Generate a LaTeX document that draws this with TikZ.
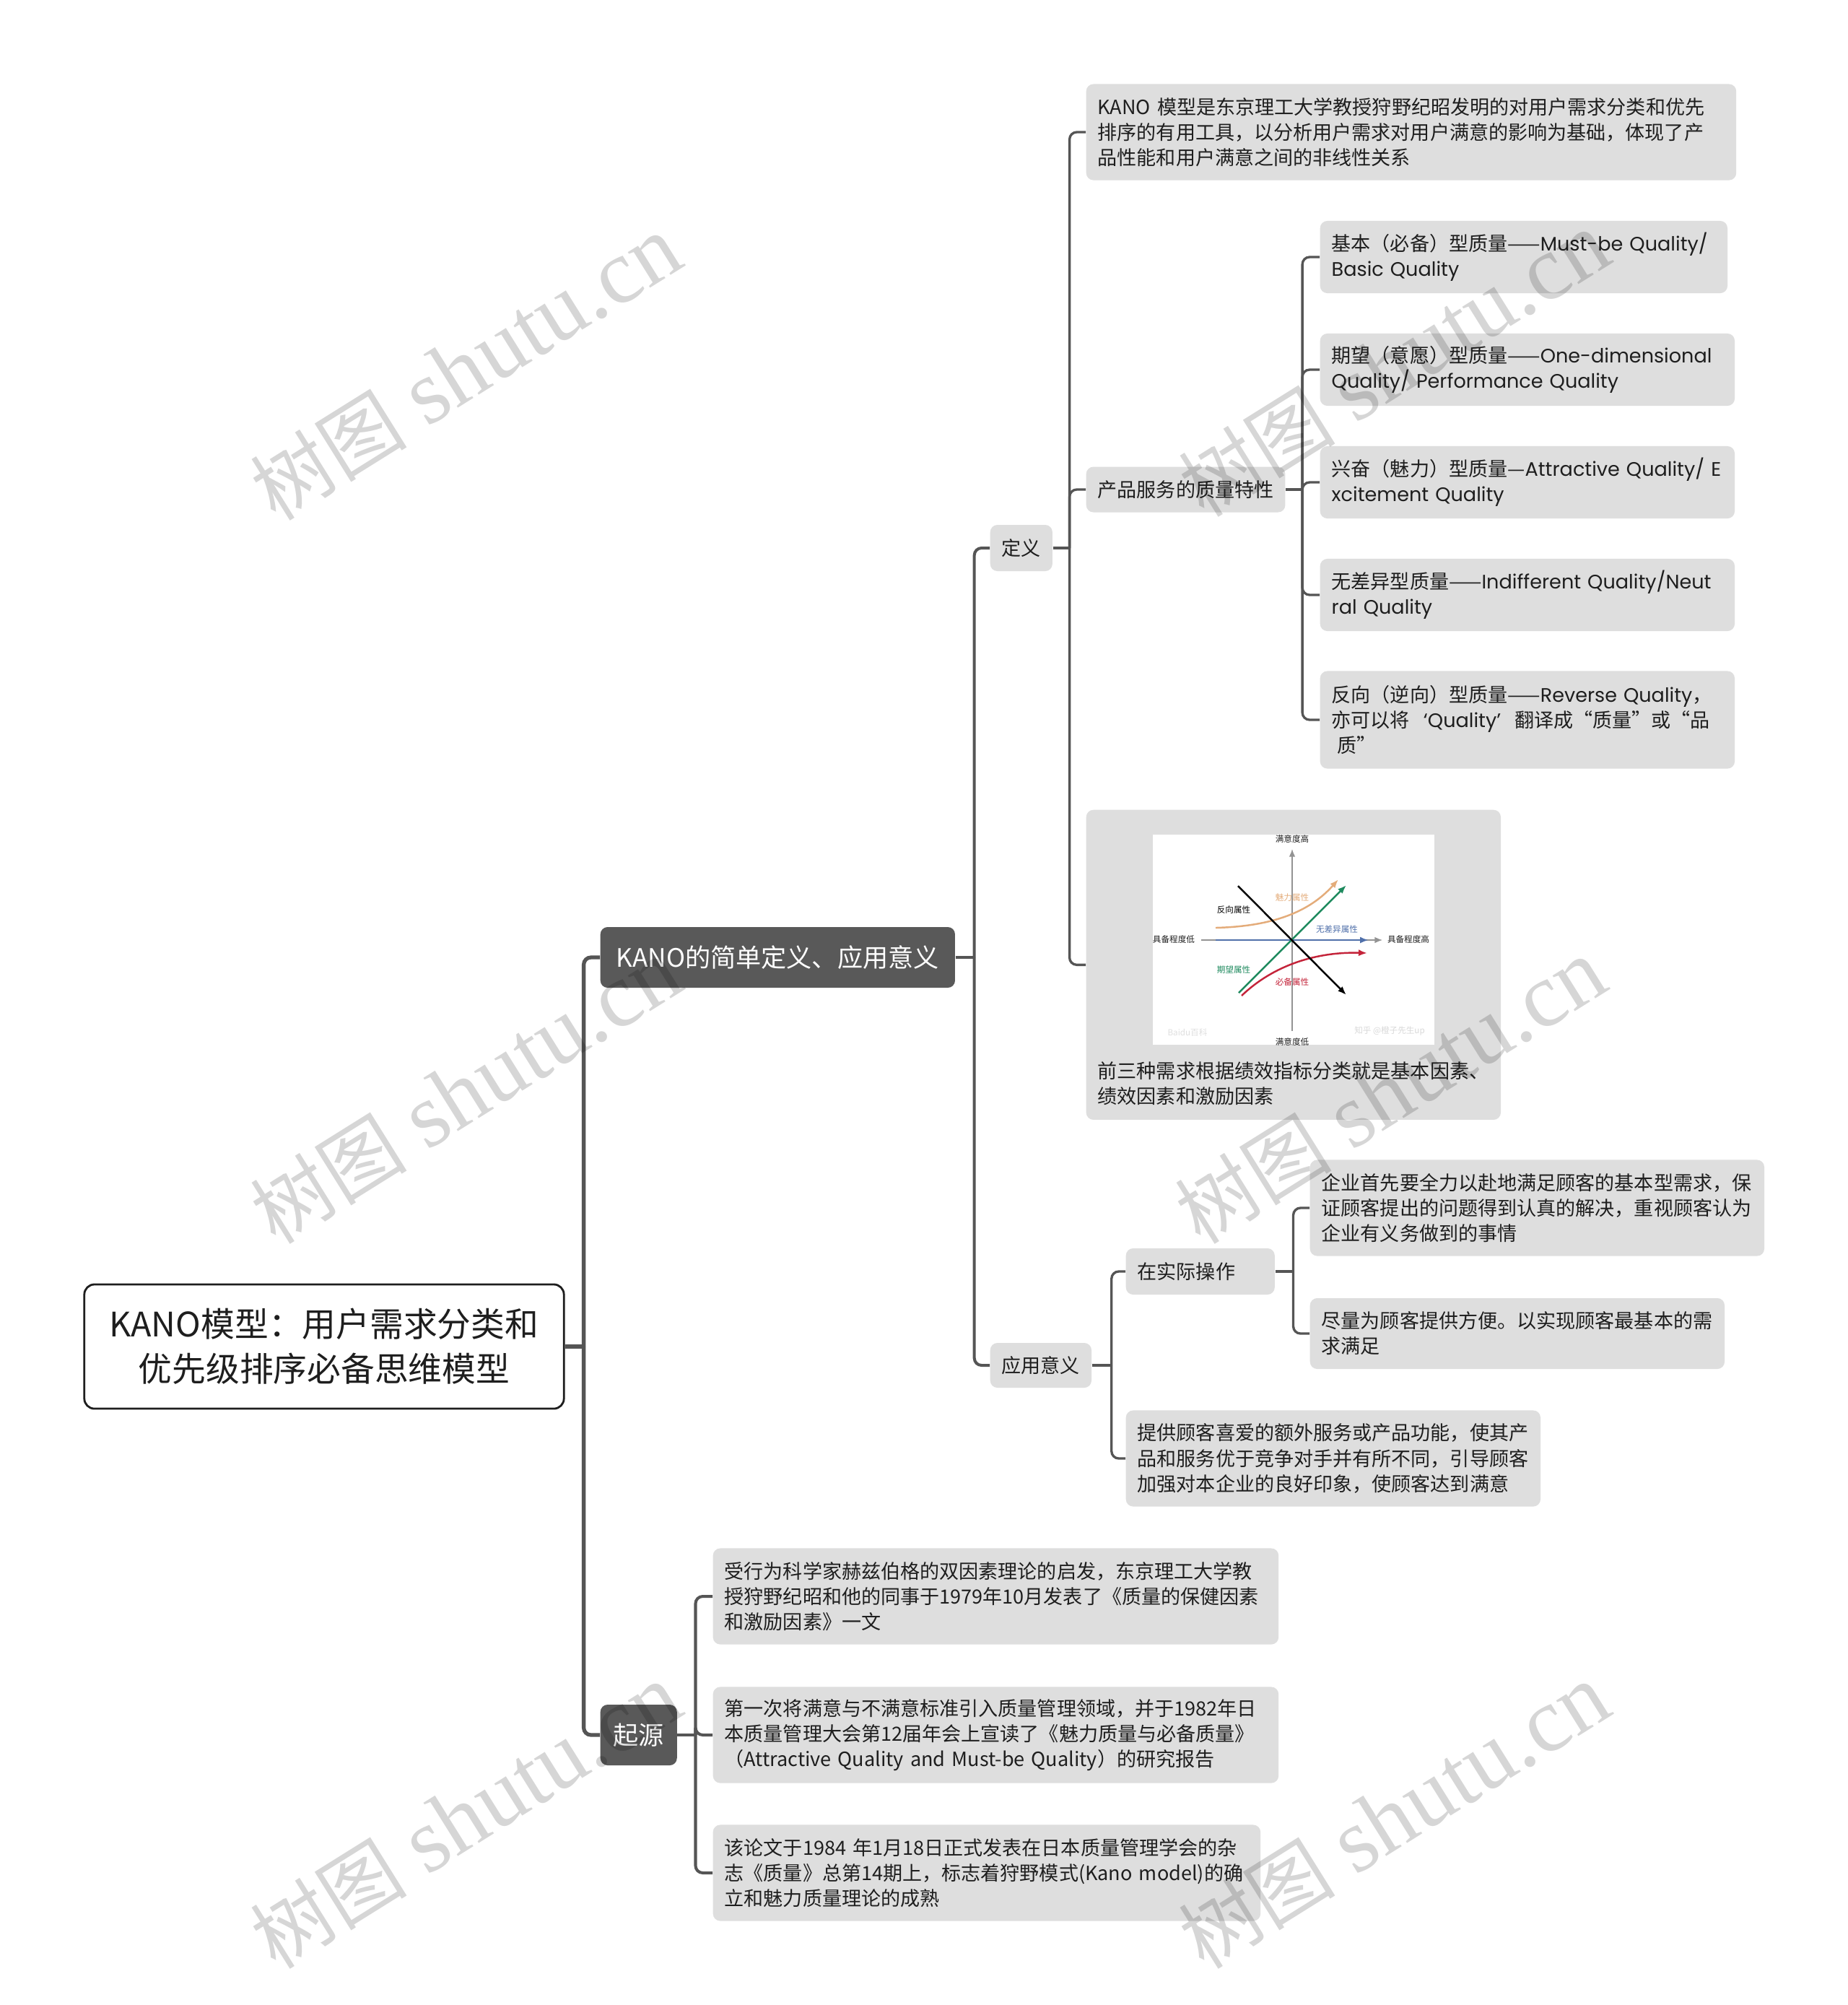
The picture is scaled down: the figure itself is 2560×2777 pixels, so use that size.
\documentclass[tikz,border=0pt]{standalone}
\usepackage{fontspec}
\setmainfont{Noto Sans CJK SC}
\newfontfamily\geofont{Poppins}
\newfontfamily\markfont{Liberation Serif}
\usetikzlibrary{arrows.meta}
\definecolor{linkgray}{RGB}{85,85,85}
\definecolor{leafgray}{RGB}{222,222,222}
\definecolor{branchgray}{RGB}{89,89,89}
\definecolor{inkgray}{RGB}{30,30,30}
\definecolor{charmorange}{RGB}{228,172,122}
\definecolor{flatblue}{RGB}{80,112,170}
\definecolor{wishgreen}{RGB}{30,138,94}
\definecolor{mustred}{RGB}{196,36,58}
\newcommand{\geotext}[1]{{\geofont #1}}
\exhyphenpenalty=10000
\hyphenpenalty=10000
\tikzset{
    rootbox/.style={draw=inkgray, line width=0.8pt, fill=white, rounded corners=0.14cm,
        align=center, text=inkgray, font=\fontsize{13.3}{17.6}\selectfont,
        minimum width=6.64cm, minimum height=1.72cm},
    branch/.style={fill=branchgray, text=white, rounded corners=0.1cm, anchor=west,
        minimum height=0.84cm, font=\fontsize{10}{12}\selectfont},
    leaf/.style={fill=leafgray, text=inkgray, rounded corners=0.1cm, anchor=west,
        align=left, inner xsep=0.16cm, inner ysep=0pt, font=\fontsize{7.7}{10}\selectfont},
    link/.style={draw=linkgray, line width=0.95pt, rounded corners=0.1cm},
    watermark/.style={text=black, text opacity=0.16, rotate=32, inner sep=0pt,
        font=\fontsize{36}{40}\selectfont}
}
\begin{document}
\begin{tikzpicture}[x=0.01cm, y=-0.01cm,
    axis/.style={draw=gray!85, line width=0.35pt, -{Latex[length=3pt,width=2.4pt]}},
    kanoline/.style={line width=0.7pt, -{Latex[length=3.4pt,width=2.6pt]}},
    charttag/.style={font=\fontsize{3.3}{4}\selectfont, inner sep=0pt}]
    \fill[white] (0,0) rectangle (2560,2777);
    \useasboundingbox (0,0) rectangle (2560,2777);

    % root and main branches
    \node[rootbox] (root) at (449,1865) {KANO模型：用户需求分类和\\优先级排序必备思维模型};
    \node[branch, minimum width=4.91cm] (simple) at (831,1326) {KANO的简单定义、应用意义};
    \node[branch, minimum width=1.06cm] (origin) at (831,2403) {起源};

    % definition side
    \node[leaf, minimum width=0.85cm, minimum height=0.64cm] (define) at (1371,759) {定义};
    \node[leaf, text width=8.68cm, minimum height=1.33cm] (desc) at (1504,183)
        {KANO 模型是东京理工大学教授狩野纪昭发明的对用户需求分类和优先\\排序的有用工具，以分析用户需求对用户满意的影响为基础，体现了产\\品性能和用户满意之间的非线性关系};
    \node[leaf, minimum width=2.75cm, minimum height=0.63cm] (prod) at (1504,678) {产品服务的质量特性};
    \foreach \nm/\yy/\hh/\ww/\txt in {
        mustbe/356/1.00/5.32/{基本（必备）型质量——\geotext{Must-be~Quality/}\\\geotext{Basic~Quality}},
        onedim/512/1.00/5.42/{期望（意愿）型质量——\geotext{One-dimensional}\\\geotext{Quality/~Performance~Quality}},
        attract/668/1.00/5.42/{兴奋（魅力）型质量—\geotext{Attractive~Quality/~E}\\\geotext{xcitement~Quality}},
        indiff/824/1.00/5.42/{无差异型质量——\geotext{Indifferent~Quality/Neut}\\\geotext{ral~Quality}},
        reverse/997/1.35/5.42/{反向（逆向）型质量——\geotext{Reverse~Quality}，\\亦可以将\hspace{0.7em}\geotext{‘Quality’}\hspace{0.7em}翻译成“质量”或“品\\\hspace*{0.3em}质”}} {
        \node[leaf, text width=\ww cm, minimum height=\hh cm] (\nm) at (1828,\yy) {\txt};
    }
    \node[leaf, anchor=north west, text width=5.42cm] (imgbox) at (1504,1121)
        {\rule{0pt}{3.367cm}\\前三种需求根据绩效指标分类就是基本因素、\\绩效因素和激励因素\rule[-0.22cm]{0pt}{0.1cm}};

    % kano chart inside the picture box
    \fill[white] (1597,1156) rectangle (1987,1447);
    \begin{scope}
        \clip (1597,1156) rectangle (1987,1447);
        \draw[axis] (1790,1428) -- (1790,1176);
        \draw[axis] (1664,1302) -- (1915,1302);
        \draw[kanoline, charmorange] (1684,1285) .. controls (1765,1283) and (1815,1262) .. (1854,1218);
        \draw[kanoline, flatblue] (1684,1302) -- (1896,1302);
        \draw[kanoline, wishgreen] (1716,1375) -- (1865,1226);
        \draw[kanoline, mustred] (1720,1379) .. controls (1765,1336) and (1825,1318) .. (1894,1320);
        \draw[kanoline, black] (1715,1227) -- (1865,1378);
        \node[charttag, text=inkgray] (satHigh) at (1790,1162) {满意度高};
        \node[charttag, text=inkgray] (satLow) at (1790,1443) {满意度低};
        \node[charttag, text=inkgray] (hasLow) at (1626,1301) {具备程度低};
        \node[charttag, text=inkgray] (hasHigh) at (1951,1301) {具备程度高};
        \node[charttag, text=charmorange] (tagCharm) at (1790,1243) {魅力属性};
        \node[charttag, text=black] (tagReverse) at (1709,1260) {反向属性};
        \node[charttag, text=flatblue] (tagFlat) at (1852,1287) {无差异属性};
        \node[charttag, text=wishgreen] (tagWish) at (1709,1343) {期望属性};
        \node[charttag, text=mustred] (tagMust) at (1790,1360) {必备属性};
        \node[charttag, text=gray!25] (markLeft) at (1645,1430) {Baidu百科};
        \node[charttag, text=gray!30] (markRight) at (1925,1428) {知乎 @橙子先生up};
    \end{scope}

    % application side
    \node[leaf, minimum width=1.38cm, minimum height=0.62cm] (apply) at (1371,1891) {应用意义};
    \node[leaf, text width=1.74cm, minimum height=0.64cm] (practice) at (1559,1761) {在实际操作};
    \node[leaf, text width=5.97cm, minimum height=1.33cm] (basicneed) at (1814,1673)
        {企业首先要全力以赴地满足顾客的基本型需求，保\\证顾客提出的问题得到认真的解决，重视顾客认为\\企业有义务做到的事情};
    \node[leaf, text width=5.42cm, minimum height=0.98cm] (convenient) at (1814,1847)
        {尽量为顾客提供方便。以实现顾客最基本的需\\求满足};
    \node[leaf, text width=5.42cm, minimum height=1.33cm] (extra) at (1559,2020)
        {提供顾客喜爱的额外服务或产品功能，使其产\\品和服务优于竞争对手并有所不同，引导顾客\\加强对本企业的良好印象，使顾客达到满意};

    % origin side
    \node[leaf, text width=7.51cm, minimum height=1.33cm] (herzberg) at (987,2211)
        {受行为科学家赫兹伯格的双因素理论的启发，东京理工大学教\\授狩野纪昭和他的同事于1979年10月发表了《质量的保健因素\\和激励因素》一文};
    \node[leaf, text width=7.51cm, minimum height=1.33cm] (report) at (987,2403)
        {第一次将满意与不满意标准引入质量管理领域，并于1982年日\\本质量管理大会第12届年会上宣读了《魅力质量与必备质量》\\（Attractive~Quality~and~Must-be~Quality）的研究报告};
    \node[leaf, text width=7.26cm, minimum height=1.33cm] (paper) at (987,2594)
        {该论文于1984~年1月18日正式发表在日本质量管理学会的杂\\志《质量》总第14期上，标志着狩野模式(Kano~model)的确\\立和魅力质量理论的成熟};

    % connectors
    \coordinate (rootj) at ([xshift=0.26cm]root.east);
    \draw[link, line width=1.5pt] (root.east) -- (rootj);
    \foreach \kid in {simple,origin}
        \draw[link, line width=1.5pt] (rootj) |- (\kid.west);

    \coordinate (simplej) at ([xshift=0.26cm]simple.east);
    \draw[link, line width=1.15pt] (simple.east) -- (simplej);
    \foreach \kid in {define,apply}
        \draw[link, line width=1.15pt] (simplej) |- (\kid.west);

    \coordinate (originj) at ([xshift=0.25cm]origin.east);
    \draw[link, line width=1.15pt] (origin.east) -- (originj);
    \foreach \kid in {herzberg,report,paper}
        \draw[link, line width=1.15pt] (originj) |- (\kid.west);

    \coordinate (definej) at ([xshift=0.23cm]define.east);
    \draw[link] (define.east) -- (definej);
    \foreach \kid in {desc,prod,imgbox}
        \draw[link] (definej) |- (\kid.west);

    \coordinate (prodj) at ([xshift=0.23cm]prod.east);
    \draw[link] (prod.east) -- (prodj);
    \foreach \kid in {mustbe,onedim,attract,indiff,reverse}
        \draw[link] (prodj) |- (\kid.west);

    \coordinate (applyj) at ([xshift=0.27cm]apply.east);
    \draw[link] (apply.east) -- (applyj);
    \foreach \kid in {practice,extra}
        \draw[link] (applyj) |- (\kid.west);

    \coordinate (practicej) at ([xshift=0.25cm]practice.east);
    \draw[link] (practice.east) -- (practicej);
    \foreach \kid in {basicneed,convenient}
        \draw[link] (practicej) |- (\kid.west);

    % watermarks
    \foreach \wx/\wy in {645/510, 645/1512, 645/2516, 1931/505, 1926/1512, 1931/2516}
        \node[watermark] (mark-\wx-\wy) at (\wx,\wy)
            {{\fontsize{31}{34}\selectfont 树图}~{\markfont shutu.cn}};
\end{tikzpicture}
\end{document}
